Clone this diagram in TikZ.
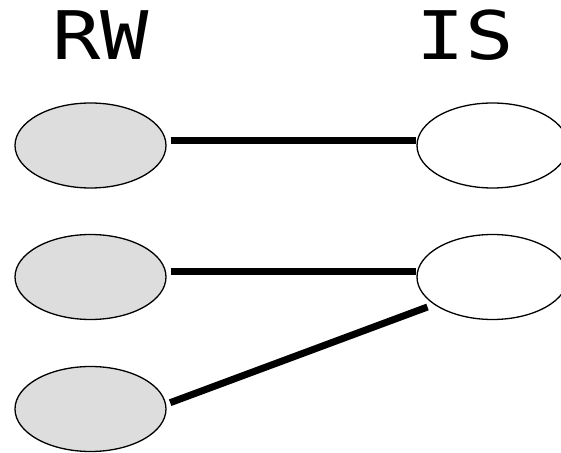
\documentclass[tikz,border=0pt]{standalone}
\usepackage{fontspec}
\newfontfamily\labelfont[FakeStretch=1.2]{DejaVu Sans Mono}
\usetikzlibrary{shapes.geometric}
\definecolor{rwfill}{HTML}{DDDDDD}
\begin{document}
\begin{tikzpicture}[x=1pt,y=1pt,
  entity/.style={ellipse, draw=black, line width=1.3pt, inner sep=0pt,
    minimum width=151pt, minimum height=85pt},
  rw/.style={entity, fill=rwfill},
  is/.style={entity, fill=white},
  link/.style={line width=7pt, line cap=butt},
  heading/.style={anchor=base, inner sep=0pt, font=\labelfont\fontsize{67}{67}\selectfont}]
  \useasboundingbox (0,0) rectangle (561,452);
  \clip (0,0) rectangle (561,452);

  % column headings
  \node[heading] (hrw) at (101,392) {RW};
  \node[heading] (his) at (465,392) {IS};

  % entities
  \node[rw] (l1) at (90.5,306.5) {};
  \node[rw] (l2) at (90.5,175) {};
  \node[rw] (l3) at (90.5,43) {};
  \node[is] (r1) at (492.5,306.5) {};
  \node[is] (r2) at (492.5,175) {};

  % mappings
  \draw[link] ([shift={(4,5)}]l1.east) -- ([shift={(0,5)}]r1.west);
  \draw[link] ([shift={(4,5)}]l2.east) -- ([shift={(0,5)}]r2.west);
  \draw[link] ([shift={(3.5,6.3)}]l3.east) -- ([shift={(-65,-30)}]r2.center);
\end{tikzpicture}
\end{document}
